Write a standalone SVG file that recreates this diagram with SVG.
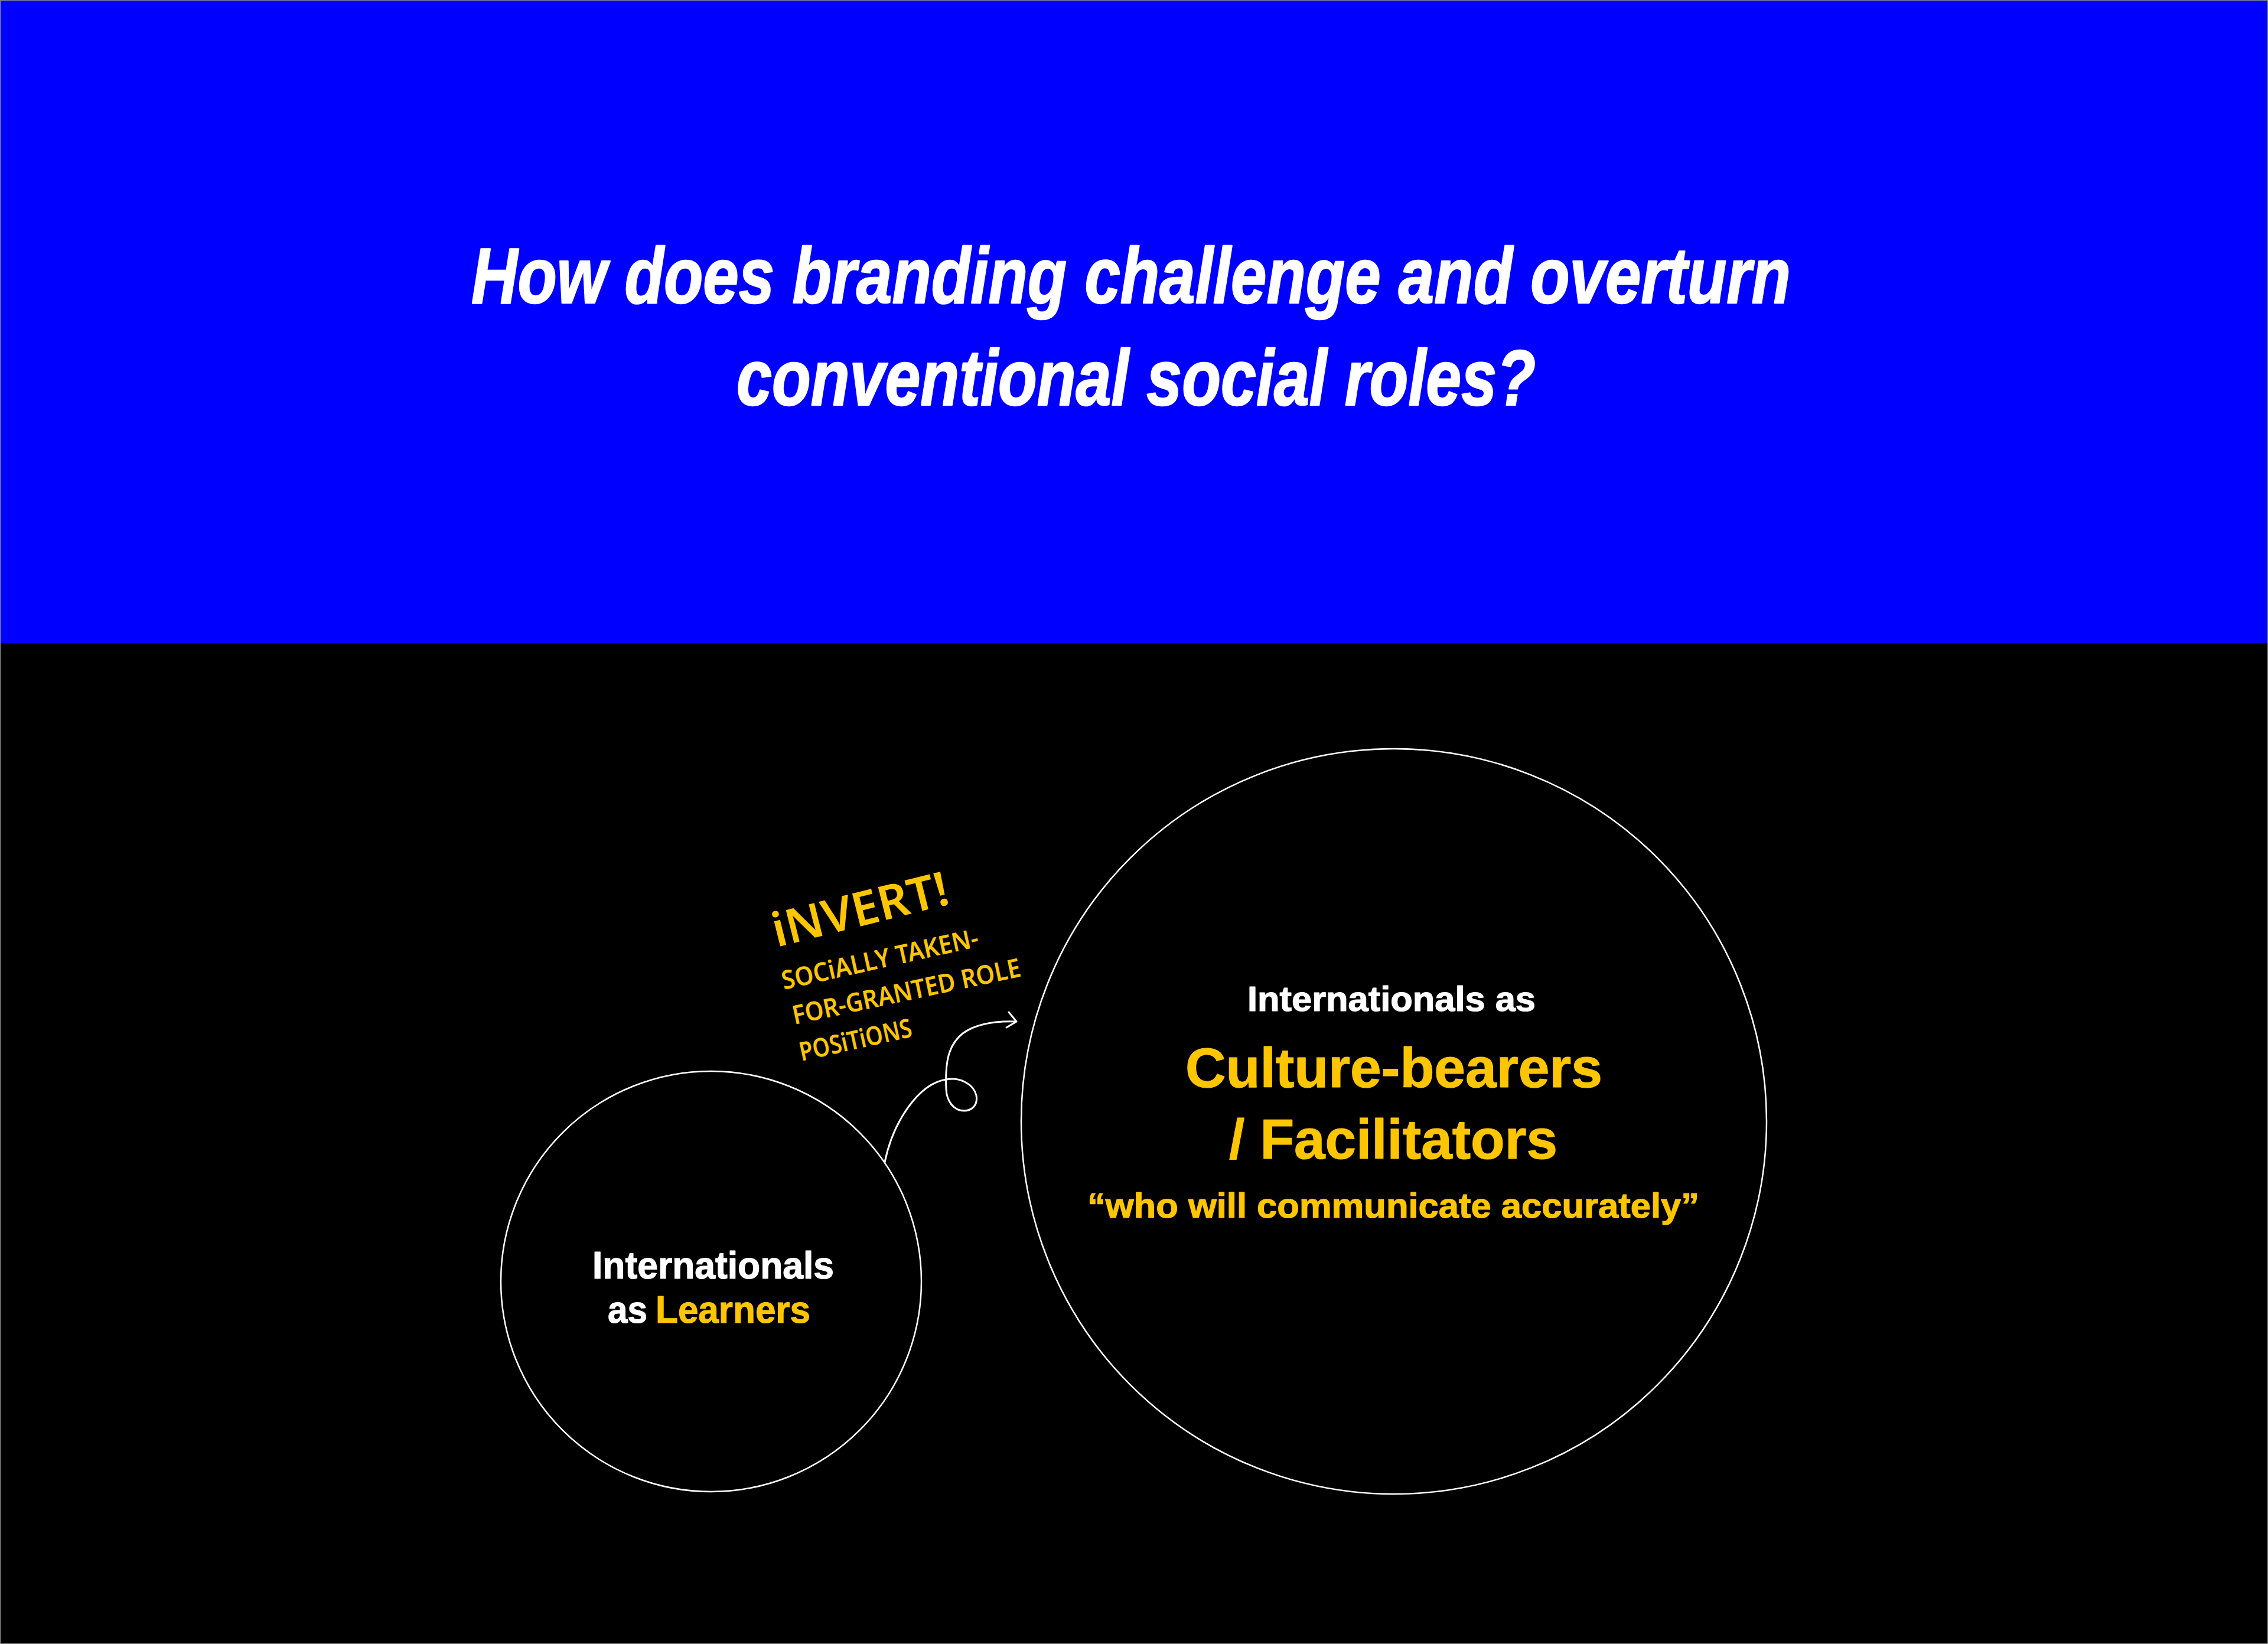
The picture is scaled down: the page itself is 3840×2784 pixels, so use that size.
<svg xmlns="http://www.w3.org/2000/svg" width="3840" height="2784" viewBox="0 0 3840 2784">
  <defs>
    <style>
      .title { font-family: "Liberation Sans", Arial, sans-serif; font-weight: 700; font-style: italic; font-size: 134px; fill: #ffffff; stroke: #ffffff; stroke-width: 2.5; stroke-linejoin: round; }
      .lbl { font-family: "Liberation Sans", Arial, sans-serif; font-weight: 700; stroke-width: 1.2; stroke-linejoin: round; }
      .w { fill: #ffffff; stroke: #ffffff; }
      .y { fill: #ffc600; stroke: #ffc600; }
      .hand { font-family: "Noto Sans", "Open Sans", sans-serif; font-weight: 600; fill: #ffc600; }
      .ring { fill: none; stroke: #ffffff; stroke-width: 2.5; }
      .conn { fill: none; stroke: #ffffff; stroke-width: 3; stroke-linecap: round; stroke-linejoin: round; }
    </style>
  </defs>

  <rect x="0" y="0" width="3840" height="2784" fill="#000000"/>
  <rect x="0" y="0" width="3840" height="1089" fill="#0000ff"/>
  <rect x="0.5" y="0.5" width="3839" height="2783" fill="none" stroke="#888888" stroke-width="1.5"/>

  <g id="title">
    <text class="title" x="798" y="513" textLength="2234" lengthAdjust="spacingAndGlyphs">How does branding challenge and overturn</text>
    <text class="title" x="1247" y="686" textLength="1353" lengthAdjust="spacingAndGlyphs">conventional social roles?</text>
  </g>

  <g id="node-learners">
    <circle class="ring" cx="1204" cy="2170" r="356"/>
    <text class="lbl w" x="1003" y="2165" font-size="64" textLength="409" lengthAdjust="spacingAndGlyphs">Internationals</text>
    <text class="lbl w" x="1029" y="2240" font-size="64" textLength="67" lengthAdjust="spacingAndGlyphs">as</text>
    <text class="lbl y" x="1110" y="2240" font-size="64" textLength="262" lengthAdjust="spacingAndGlyphs">Learners</text>
  </g>

  <g id="node-culture-bearers">
    <circle class="ring" cx="2360" cy="1899" r="631"/>
    <text class="lbl w" x="2112" y="1712" font-size="59" textLength="488" lengthAdjust="spacingAndGlyphs">Internationals as</text>
    <text class="lbl y" x="2007" y="1841" font-size="95" textLength="706" lengthAdjust="spacingAndGlyphs">Culture-bearers</text>
    <text class="lbl y" x="2081" y="1962" font-size="95" textLength="556" lengthAdjust="spacingAndGlyphs">/ Facilitators</text>
    <text class="lbl y" x="1841" y="2062" font-size="60" textLength="1036" lengthAdjust="spacingAndGlyphs">“who will communicate accurately”</text>
  </g>

  <g id="note-invert">
    <text class="hand" x="1315" y="1604" font-size="80" textLength="305" lengthAdjust="spacingAndGlyphs" transform="rotate(-14 1315 1604)">iNVERT!</text>
    <text class="hand" x="1327" y="1676" font-size="44" textLength="340" lengthAdjust="spacingAndGlyphs" transform="rotate(-12.5 1327 1676)">SOCiALLY TAKEN-</text>
    <text class="hand" x="1345" y="1735" font-size="44" textLength="394" lengthAdjust="spacingAndGlyphs" transform="rotate(-12 1345 1735)">FOR-GRANTED ROLE</text>
    <text class="hand" x="1357" y="1797" font-size="44" textLength="194" lengthAdjust="spacingAndGlyphs" transform="rotate(-12.5 1357 1797)">POSiTiONS</text>
  </g>

  <g id="connectors">
    <path class="conn" d="M1498,1968 C1512,1900 1555,1835 1602,1828 C1625,1824 1648,1835 1653,1855 C1656,1872 1645,1881 1632,1881 C1615,1881 1603,1865 1602,1845 C1600,1800 1605,1770 1630,1750 C1655,1732 1690,1729 1720,1730"/>
    <path class="conn" d="M1708,1714 L1721,1730 L1704,1740"/>
  </g>
</svg>
